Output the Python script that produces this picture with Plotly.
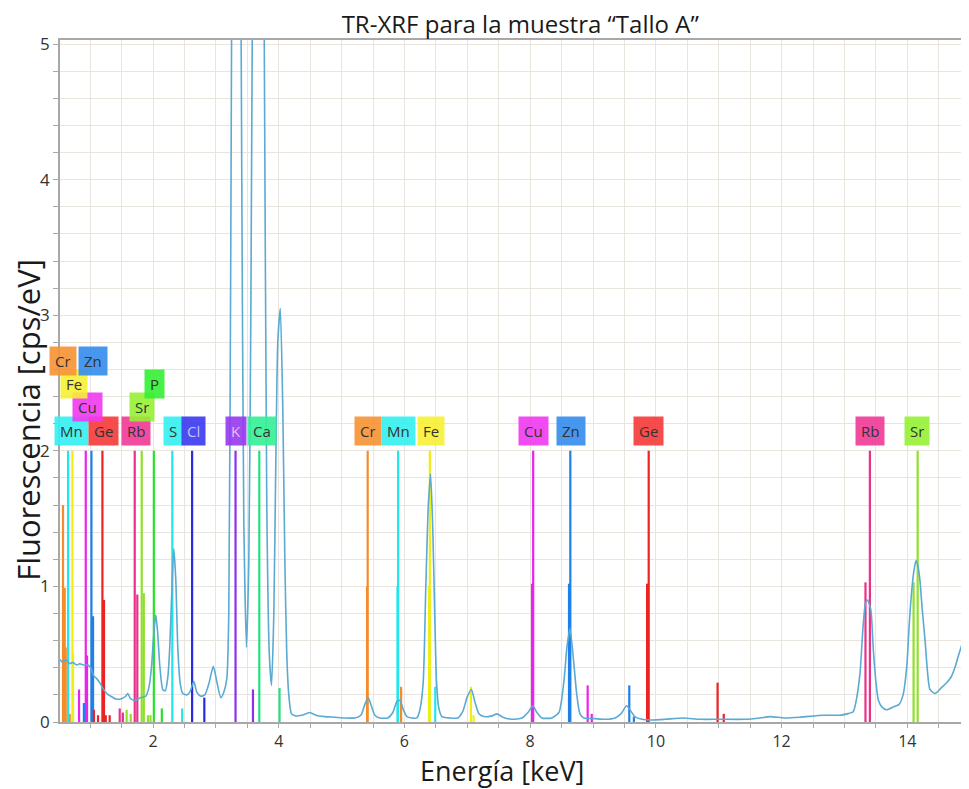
import plotly.graph_objects as go

# ---------------- data ----------------
# measured spectrum (energy keV, fluorescence cps/eV), read off the picture
spec_energy = [0.516, 0.563, 0.611, 0.675, 0.72, 0.786, 0.834, 0.9, 0.961, 1.01, 1.057, 1.105,
               1.152, 1.2, 1.264, 1.327, 1.407, 1.487, 1.566, 1.598, 1.646, 1.725, 1.805, 1.884,
               1.932, 1.975, 2.012, 2.044, 2.075, 2.107, 2.155, 2.195, 2.235, 2.266, 2.298, 2.33,
               2.362, 2.394, 2.434, 2.473, 2.537, 2.585, 2.649, 2.697, 2.76, 2.824, 2.887, 2.959,
               3.014, 3.078, 3.126, 3.174, 3.205, 3.237, 3.269, 3.325, 3.38, 3.412, 3.444, 3.487,
               3.524, 3.556, 3.595, 3.634, 3.682, 3.726, 3.77, 3.81, 3.85, 3.885, 3.922, 3.953,
               3.985, 4.025, 4.065, 4.097, 4.128, 4.16, 4.203, 4.272, 4.367, 4.495, 4.59, 4.733,
               4.893, 5.052, 5.21, 5.307, 5.37, 5.422, 5.473, 5.529, 5.609, 5.736, 5.815, 5.879,
               5.927, 5.975, 6.039, 6.118, 6.198, 6.246, 6.298, 6.341, 6.38, 6.416, 6.452, 6.484,
               6.511, 6.548, 6.596, 6.724, 6.85, 6.93, 6.995, 7.065, 7.12, 7.185, 7.264, 7.392,
               7.471, 7.567, 7.71, 7.869, 7.965, 8.044, 8.107, 8.187, 8.346, 8.458, 8.537, 8.585,
               8.633, 8.681, 8.74, 8.792, 8.856, 9.031, 9.19, 9.35, 9.444, 9.535, 9.604, 9.665,
               9.779, 9.938, 10.145, 10.432, 10.7, 11.02, 11.42, 11.66, 11.82, 12.05, 12.29, 12.66,
               12.93, 13.04, 13.14, 13.184, 13.248, 13.296, 13.336, 13.367, 13.419, 13.46, 13.5,
               13.54, 13.598, 13.673, 13.774, 13.87, 13.933, 13.992, 14.028, 14.071, 14.107, 14.14,
               14.17, 14.2, 14.24, 14.283, 14.32, 14.36, 14.44, 14.536, 14.626, 14.695, 14.757,
               14.82, 14.89, 14.98]
spec_counts = [0.46, 0.44, 0.46, 0.43, 0.44, 0.42, 0.43, 0.42, 0.42, 0.40, 0.34, 0.32,
               0.29, 0.25, 0.21, 0.19, 0.17, 0.17, 0.19, 0.21, 0.17, 0.16, 0.18, 0.19,
               0.25, 0.40, 0.65, 0.79, 0.65, 0.42, 0.24, 0.23, 0.33, 0.55, 0.95, 1.28,
               1.05, 0.55, 0.28, 0.21, 0.20, 0.22, 0.30, 0.22, 0.19, 0.20, 0.28, 0.41,
               0.30, 0.18, 0.22, 0.32, 0.8, 3.5, 7.0, 9.0, 7.0, 4.0, 1.5, 0.55,
               1.2, 3.0, 6.5, 8.5, 9.0, 8.0, 5.0, 1.6, 0.5, 0.27, 0.8, 1.9,
               2.8, 3.05, 2.3, 1.2, 0.5, 0.2, 0.06, 0.045, 0.05, 0.07, 0.05, 0.04,
               0.035, 0.03, 0.03, 0.05, 0.13, 0.18, 0.12, 0.05, 0.03, 0.03, 0.07, 0.15,
               0.16, 0.10, 0.04, 0.03, 0.03, 0.09, 0.29, 1.02, 1.6, 1.83, 1.4, 0.75,
               0.29, 0.10, 0.04, 0.03, 0.03, 0.08, 0.18, 0.24, 0.15, 0.06, 0.04, 0.045,
               0.06, 0.035, 0.02, 0.03, 0.07, 0.12, 0.07, 0.03, 0.03, 0.07, 0.30, 0.55,
               0.69, 0.50, 0.21, 0.06, 0.03, 0.025, 0.02, 0.03, 0.06, 0.12, 0.08, 0.04,
               0.02, 0.015, 0.02, 0.03, 0.02, 0.02, 0.02, 0.03, 0.04, 0.03, 0.035, 0.05,
               0.05, 0.06, 0.076, 0.15, 0.36, 0.70, 0.88, 0.90, 0.83, 0.53, 0.30,
               0.16, 0.11, 0.09, 0.11, 0.13, 0.20, 0.41, 0.70, 0.97, 1.12, 1.19,
               1.15, 1.05, 0.82, 0.60, 0.38, 0.24, 0.21, 0.25, 0.29, 0.33, 0.40,
               0.50, 0.60, 0.72]

# element emission-line markers: energy keV and marker height, per element
elements = ["Cr", "Mn", "Fe", "Cu", "Zn", "Ge", "Rb", "Sr", "P", "S", "Cl", "K", "Ca"]
line_energies = {
    "Cr": [5.415, 5.405, 5.947, 0.568, 0.595, 0.611, 0.675],
    "Mn": [5.899, 5.889, 6.490, 0.648],
    "Fe": [6.404, 6.391, 7.058, 7.100, 0.718, 0.727],
    "Cu": [8.048, 8.030, 8.915, 8.980, 0.930, 0.950, 0.823],
    "Zn": [8.639, 8.618, 9.577, 9.650, 1.020, 1.046, 0.900],
    "Ge": [9.886, 9.860, 10.982, 11.080, 1.195, 1.220, 1.060, 1.125, 1.248, 1.310],
    "Rb": [13.405, 13.335, 14.940, 1.709, 1.750, 1.470, 1.520],
    "Sr": [14.165, 14.100, 1.820, 1.853, 1.580, 1.645, 1.920, 1.960],
    "P":  [2.013, 2.140],
    "S":  [2.307, 2.464],
    "Cl": [2.622, 2.816],
    "K":  [3.313, 3.590],
    "Ca": [3.691, 4.013],
}
line_heights = {
    "Cr": [2.0, 1.0, 0.26, 1.6, 0.99, 0.55, 0.06],
    "Mn": [2.0, 1.0, 0.26, 2.0],
    "Fe": [2.0, 1.0, 0.26, 0.05, 2.0, 0.51],
    "Cu": [2.0, 1.02, 0.27, 0.06, 2.0, 0.49, 0.24],
    "Zn": [2.0, 1.02, 0.27, 0.04, 2.0, 0.78, 0.14],
    "Ge": [2.0, 1.02, 0.29, 0.06, 2.0, 0.90, 0.09, 0.05, 0.05, 0.05],
    "Rb": [2.0, 1.03, 0.31, 2.0, 0.94, 0.10, 0.07],
    "Sr": [2.0, 1.03, 2.0, 0.95, 0.09, 0.06, 0.05, 0.05],
    "P":  [2.0, 0.10],
    "S":  [2.0, 0.10],
    "Cl": [2.0, 0.18],
    "K":  [2.0, 0.24],
    "Ca": [2.0, 0.25],
}

# element tags: text, energy position, stack row
tag_text   = ["Mn", "Ge", "Rb", "S", "Cl", "K", "Ca", "Cr", "Mn", "Fe", "Cu", "Zn", "Ge", "Rb", "Sr",
              "Cu", "Sr", "Fe", "P", "Cr", "Zn"]
tag_energy = [0.71, 1.216, 1.725, 2.314, 2.648, 3.325, 3.73, 5.418, 5.91, 6.42, 8.06, 8.65, 9.875,
              13.41, 14.16, 0.962, 1.82, 0.74, 2.03, 0.56, 1.04]
tag_row    = [1, 1, 1, 1, 1, 1, 1, 1, 1, 1, 1, 1, 1, 1, 1, 2, 2, 3, 3, 4, 4]
row_level  = {1: 2.146, 2: 2.323, 3: 2.493, 4: 2.662}

x_ticks = [2, 4, 6, 8, 10, 12, 14]
y_ticks = [0, 1, 2, 3, 4, 5]

# ---------------- styles ----------------
line_color = {
    "Cr": "#f58c28", "Mn": "#1ee8ee", "Fe": "#eeee10", "Cu": "#ee22ee", "Zn": "#1e80ea",
    "Ge": "#ee2222", "Rb": "#ea3089", "Sr": "#8ee028", "P": "#2ae02a", "S": "#22e6e6",
    "Cl": "#2a2ae0", "K": "#8c30ee", "Ca": "#22e07c",
}
tag_bg = {
    "Cr": "rgba(246,146,52,0.9)", "Mn": "rgba(52,240,240,0.9)", "Fe": "rgba(246,240,52,0.9)",
    "Cu": "rgba(240,56,240,0.9)", "Zn": "rgba(52,140,236,0.9)", "Ge": "rgba(246,56,56,0.9)",
    "Rb": "rgba(240,56,150,0.9)", "Sr": "rgba(150,240,52,0.9)", "P": "rgba(52,240,52,0.9)",
    "S": "rgba(52,240,240,0.9)", "Cl": "rgba(56,56,240,0.9)", "K": "rgba(150,56,240,0.9)",
    "Ca": "rgba(52,240,150,0.9)",
}
tag_font = {"Cl": "rgba(220,220,255,0.85)", "K": "rgba(235,215,255,0.85)"}

fig = go.Figure()

for el in elements:
    xs, ys = [], []
    for e, h in zip(line_energies[el], line_heights[el]):
        xs += [e, e, None]
        ys += [0, h, None]
    fig.add_trace(go.Scatter(x=xs, y=ys, mode="lines", hoverinfo="skip",
                             line=dict(color=line_color[el], width=2.2), showlegend=False))

fig.add_trace(go.Scatter(x=spec_energy, y=spec_counts, mode="lines",
                         line=dict(color="#5aaad2", width=1.6, shape="spline", smoothing=0.6),
                         showlegend=False))

for t, e, r in zip(tag_text, tag_energy, tag_row):
    fig.add_annotation(x=e, y=row_level[r], xref="x", yref="y", text=t, showarrow=False,
                       bgcolor=tag_bg[t], borderpad=5, height=18,
                       font=dict(family="Open Sans", size=15, color=tag_font.get(t, "#333333")))

# the page body adds an 8px offset, so the figure is 8px smaller than the window
W, H = 961, 781
grid = "#e9e5de"
axis_col = "#a8a8a8"
fig.update_layout(
    width=W, height=H,
    margin=dict(l=52, r=2, t=32, b=67),
    paper_bgcolor="white", plot_bgcolor="white",
    font=dict(family="Open Sans", color="#222222"),
    title=dict(text="TR-XRF para la muestra “Tallo A”", x=0.533, xanchor="center",
               y=1 - 17 / H, yanchor="middle", font=dict(size=24, color="#1a1a1a")),
    xaxis=dict(range=[0.52, 14.95], tickvals=x_ticks, ticks="outside", ticklen=4,
               tickcolor=axis_col, showgrid=True, gridcolor=grid, gridwidth=1.2,
               minor=dict(dtick=0.5, tick0=0, showgrid=True, gridcolor=grid, gridwidth=1.2,
                          ticks="outside", ticklen=4, tickcolor=axis_col),
               showline=True, linecolor=axis_col, linewidth=1.5, mirror=True,
               zeroline=False, tickfont=dict(size=16, color="#333333")),
    yaxis=dict(range=[0, 5.03], tickvals=y_ticks, ticks="outside", ticklen=5,
               tickcolor=axis_col, showgrid=True, gridcolor=grid, gridwidth=1.2,
               minor=dict(dtick=0.2, tick0=0, showgrid=True, gridcolor=grid, gridwidth=1.2,
                          ticks="outside", ticklen=5, tickcolor=axis_col),
               showline=True, linecolor=axis_col, linewidth=1.5,
               zeroline=False, tickfont=dict(size=17, color="#333333")),
)

fig.add_annotation(text="Energía [keV]", xref="paper", yref="paper", x=0.487, y=-48 / 682,
                   xanchor="center", yanchor="middle", showarrow=False,
                   font=dict(size=27, color="#1a1a1a"))
fig.add_annotation(text="Fluorescencia [cps/eV]", xref="paper", yref="paper", x=-32 / 907,
                   y=0.443, xanchor="center", yanchor="middle", textangle=-90, showarrow=False,
                   font=dict(size=31, color="#1a1a1a"))

fig.write_html("out.html")
